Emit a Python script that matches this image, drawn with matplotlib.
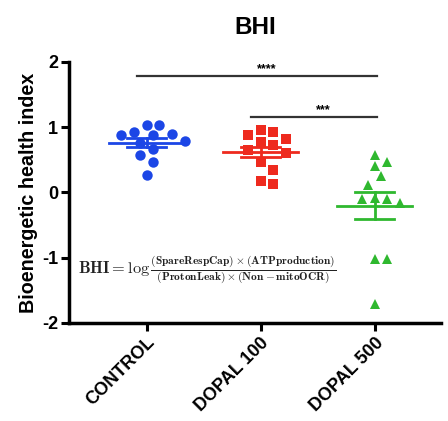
import numpy as np
import matplotlib.pyplot as plt

plt.rcParams['font.family'] = ['Liberation Sans', 'DejaVu Sans']
plt.rcParams['mathtext.fontset'] = 'cm'

groups = ['CONTROL', 'DOPAL 100', 'DOPAL 500']
control = [1.03, 1.03, 0.92, 0.88, 0.88, 0.90, 0.78, 0.76, 0.66, 0.57, 0.47, 0.27]
dopal100 = [0.95, 0.92, 0.88, 0.82, 0.77, 0.72, 0.65, 0.60, 0.46, 0.34, 0.18, 0.13]
dopal500 = [0.58, 0.46, 0.40, 0.25, 0.11, -0.09, -0.10, -0.10, -0.17, -1.02, -1.02, -1.71]
colors = ['#1c46e6', '#ee2a1e', '#2fb82f']
markers = ['o', 's', '^']
sig_pairs = [(0, 2, 1.78, '****'), (1, 2, 1.15, '***')]

fig = plt.figure(figsize=(4.48, 4.21), dpi=100)
ax = fig.add_axes([0.154, 0.233, 0.83, 0.62])

# scale of the axes in pixels per data unit, used for the swarm offsets
xpx, ypx = 114.0, 65.25
diam = 11.5

def swarm(vals):
    order = np.argsort(vals)[::-1]
    placed = []
    offs = np.zeros(len(vals))
    for i in order:
        yv = vals[i] * ypx
        for k in range(0, 20):
            for s in ([0] if k == 0 else [k, -k]):
                xo = s * diam * 0.55
                ok = all((xo - px) ** 2 + (yv - py) ** 2 >= diam ** 2 for px, py in placed)
                if ok:
                    break
            if ok:
                break
        placed.append((xo, yv))
        offs[i] = xo / xpx
    return offs

for i, (vals, c, m) in enumerate(zip([control, dopal100, dopal500], colors, markers)):
    vals = np.array(vals)
    offs = swarm(vals)
    ms = 7.5 if m == 'o' else 7
    ax.plot(i + offs, vals, ls='none', marker=m, color=c, ms=ms, mew=0, zorder=3)
    mean = vals.mean()
    sem = vals.std(ddof=1) / np.sqrt(len(vals))
    ax.plot([i - 0.33, i + 0.33], [mean, mean], color=c, lw=2, zorder=4)
    ax.plot([i, i], [mean - sem, mean + sem], color=c, lw=2, zorder=4)
    for yy in (mean - sem, mean + sem):
        ax.plot([i - 0.17, i + 0.17], [yy, yy], color=c, lw=2, zorder=4)

for a, b, y, txt in sig_pairs:
    ax.plot([a - 0.08, b + 0.02], [y, y], color='#333333', lw=1.6)
    ax.text((a + b) / 2 + 0.05, y + 0.02, txt, ha='center', va='bottom',
            fontsize=9, fontweight='bold')

ax.text(-0.6, -1.2,
        r'$\mathbf{BHI} = \log\frac{\mathbf{(SpareRespCap)}\times\mathbf{(ATPproduction)}}'
        r'{\mathbf{(ProtonLeak)}\times\mathbf{(Non-mitoOCR)}}$',
        fontsize=11.8, va='center', ha='left', color='#222222')

ax.set_xlim(-0.68, 2.58)
ax.set_ylim(-2, 2)
ax.set_yticks([-2, -1, 0, 1, 2])
ax.set_yticklabels(['-2', '-1', '0', '1', '2'], fontsize=13, fontweight='bold')
ax.set_xticks([0, 1, 2])
ax.set_xticklabels(groups, rotation=45, ha='right', rotation_mode='anchor',
                   fontsize=13, fontweight='bold')
ax.tick_params(axis='both', width=2.2, length=6, pad=2)
for s in ['top', 'right']:
    ax.spines[s].set_visible(False)
for s in ['left', 'bottom']:
    ax.spines[s].set_linewidth(2.5)
ax.set_ylabel('Bioenergetic health index', fontsize=14.2, fontweight='bold', labelpad=3)
ax.set_title('BHI', fontsize=17.5, fontweight='bold', pad=20)

fig.savefig('out.png', dpi=100)
